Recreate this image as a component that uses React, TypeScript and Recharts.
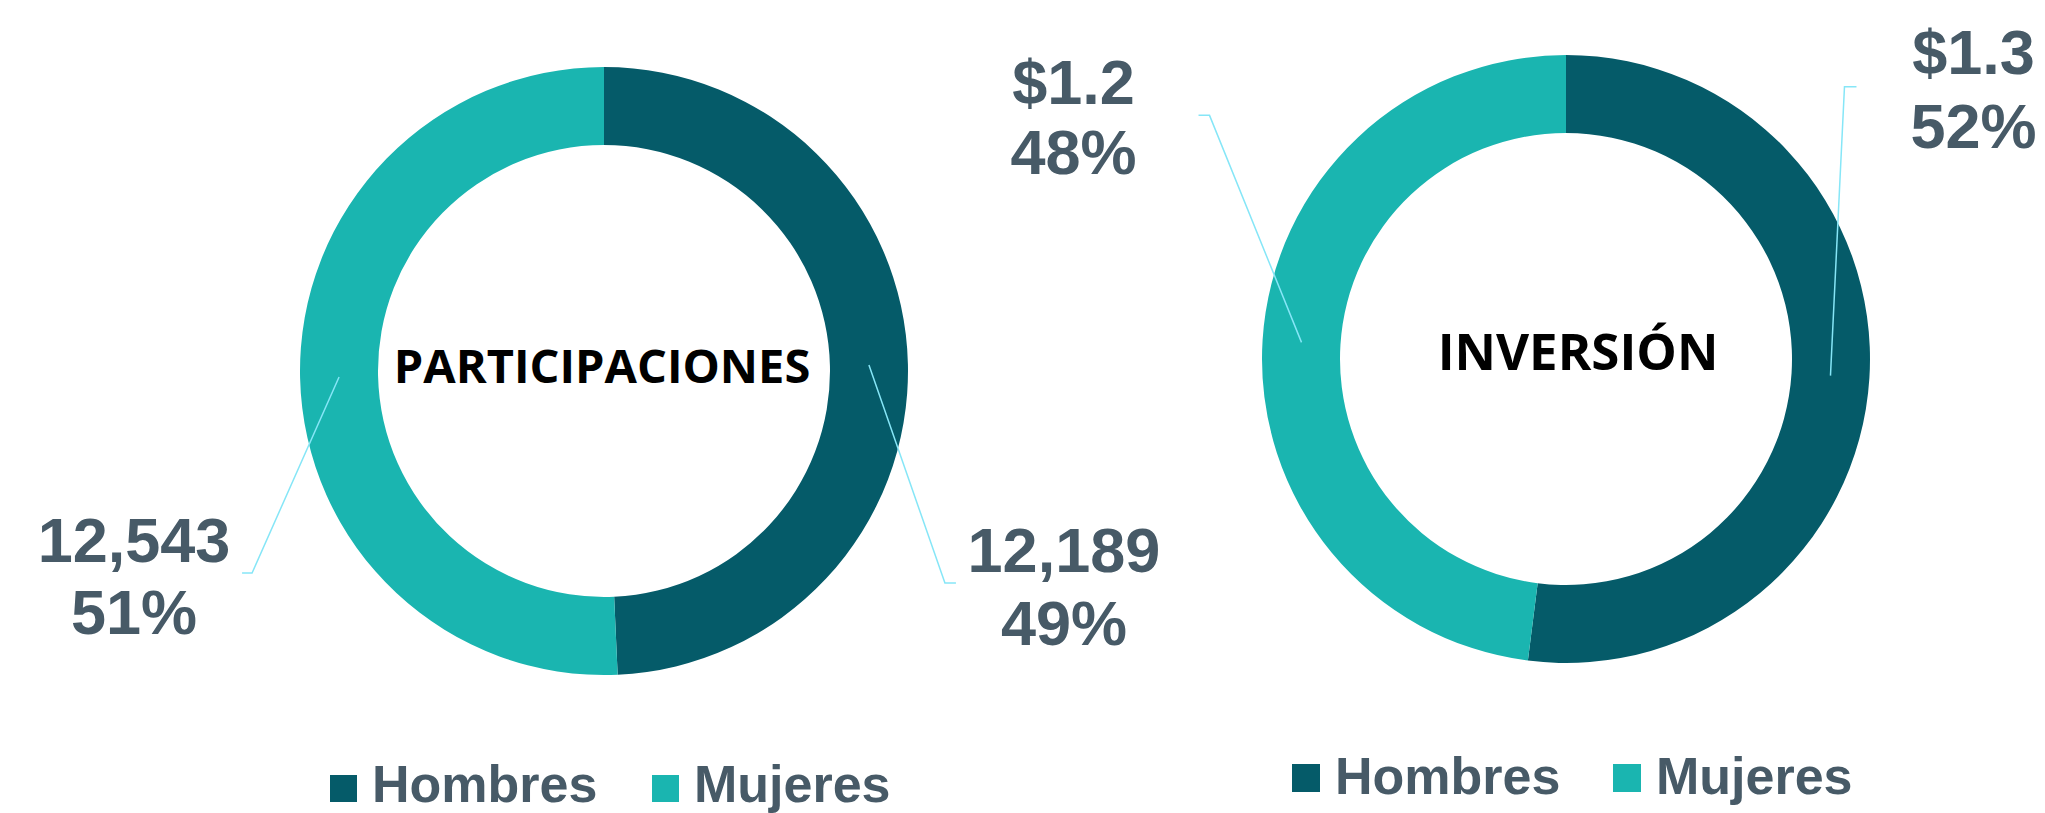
import { PieChart, Pie, Cell, Legend } from 'recharts';

const categories = ['Hombres', 'Mujeres'];
const participaciones = [12189, 12543];
const inversion = [1.3, 1.2];
const titles = ['PARTICIPACIONES', 'INVERSIÓN'];

const COLORS = ['#055b69', '#1ab5b0'];
const TEXT = '#475a67';
const LEADER = '#86e6f7';
const RAD = Math.PI / 180;

const partData = categories.map((name, i) => ({ name, value: participaciones[i] }));
const invData = categories.map((name, i) => ({ name, value: inversion[i] }));

// leader line elbow / text offsets, per slice (Excel-style manual placement)
const LEFT_LABELS = [
  { ex: 76, ey: 218, tail: 11, tx: 108, l1: -11, l2: 62 },
  { ex: -87, ey: 196, tail: -10, tx: -108, l1: -11, l2: 61 },
];
const RIGHT_LABELS = [
  { ex: 14, ey: -289, tail: 12, tx: 117, l1: -13, l2: 61 },
  { ex: -92, ey: -227, tail: -11, tx: -125, l1: -11, l2: 59 },
];

type Layout = { ex: number; ey: number; tail: number; tx: number; l1: number; l2: number };

const makeLabel =
  (layout: Layout[], fmt: (v: number) => string, title: string, titleSize: number, tdx: number, tdy: number) =>
  (props: any) => {
    const { cx, cy, midAngle, innerRadius, outerRadius, index, value, percent } = props;
    const r = (innerRadius + outerRadius) / 2;
    const sx = cx + r * Math.cos(-midAngle * RAD);
    const sy = cy + r * Math.sin(-midAngle * RAD);
    const l = layout[index];
    const mx = sx + l.ex;
    const my = sy + l.ey;
    const endX = mx + l.tail;
    const tx = endX + l.tx;
    return (
      <g>
        <polyline points={`${sx},${sy} ${mx},${my} ${endX},${my}`} fill="none" stroke={LEADER} strokeWidth={1.5} />
        <text x={tx} y={my + l.l1} textAnchor="middle" fill={TEXT} fontFamily="'Liberation Sans', Arial, sans-serif" fontWeight="bold" fontSize={63}>
          {fmt(value)}
        </text>
        <text x={tx} y={my + l.l2} textAnchor="middle" fill={TEXT} fontFamily="'Liberation Sans', Arial, sans-serif" fontWeight="bold" fontSize={63}>
          {`${Math.round(percent * 100)}%`}
        </text>
        {index === 0 && (
          <text x={cx + tdx} y={cy + tdy} textAnchor="middle" fill="#000" fontFamily="'Open Sans', sans-serif" fontWeight="bold" fontSize={titleSize}>
            {title}
          </text>
        )}
      </g>
    );
  };

const LEGENDS = [
  { x: 330, y: 775, size: 27, base: 802, gap: 322 },
  { x: 1292, y: 764, size: 28, base: 794, gap: 321 },
];

function LegendContent() {
  return (
    <svg width={2045} height={813} style={{ position: 'absolute', left: 0, top: 0, overflow: 'visible' }}>
      {LEGENDS.map((lg, k) =>
        categories.map((c, i) => (
          <g key={`${k}-${i}`}>
            <rect x={lg.x + i * lg.gap} y={lg.y} width={lg.size} height={lg.size} fill={COLORS[i]} />
            <text
              x={lg.x + i * lg.gap + lg.size + 15}
              y={lg.base}
              fill={TEXT}
              fontFamily="'Liberation Sans', Arial, sans-serif"
              fontWeight="bold"
              fontSize={52}
            >
              {c}
            </text>
          </g>
        ))
      )}
    </svg>
  );
}

export default function App() {
  return (
    <div style={{ position: 'absolute', left: 0, top: 0, width: 2045, height: 813, background: '#fff' }}>
      <PieChart width={2045} height={813} margin={{ top: 0, right: 0, bottom: 0, left: 0 }}>
        <Pie
          data={partData}
          dataKey="value"
          nameKey="name"
          cx={604}
          cy={371}
          innerRadius={226}
          outerRadius={304}
          startAngle={90}
          endAngle={-270}
          stroke="none"
          labelLine={false}
          label={makeLabel(LEFT_LABELS, (v) => v.toLocaleString('en-US'), titles[0], 47, -2, 12)}
          isAnimationActive={false}
        >
          {partData.map((_, i) => (
            <Cell key={`p-${i}`} fill={COLORS[i]} />
          ))}
        </Pie>
        <Pie
          data={invData}
          dataKey="value"
          nameKey="name"
          cx={1566}
          cy={359}
          innerRadius={226}
          outerRadius={304}
          startAngle={90}
          endAngle={-270}
          stroke="none"
          labelLine={false}
          label={makeLabel(RIGHT_LABELS, (v) => `$${v.toFixed(1)}`, titles[1], 51, 12, 11)}
          isAnimationActive={false}
        >
          {invData.map((_, i) => (
            <Cell key={`i-${i}`} fill={COLORS[i]} />
          ))}
        </Pie>
        <Legend
          content={() => <LegendContent />}
          wrapperStyle={{ position: 'absolute', left: 0, top: 0, width: 0, height: 0, overflow: 'visible' }}
        />
      </PieChart>
    </div>
  );
}
